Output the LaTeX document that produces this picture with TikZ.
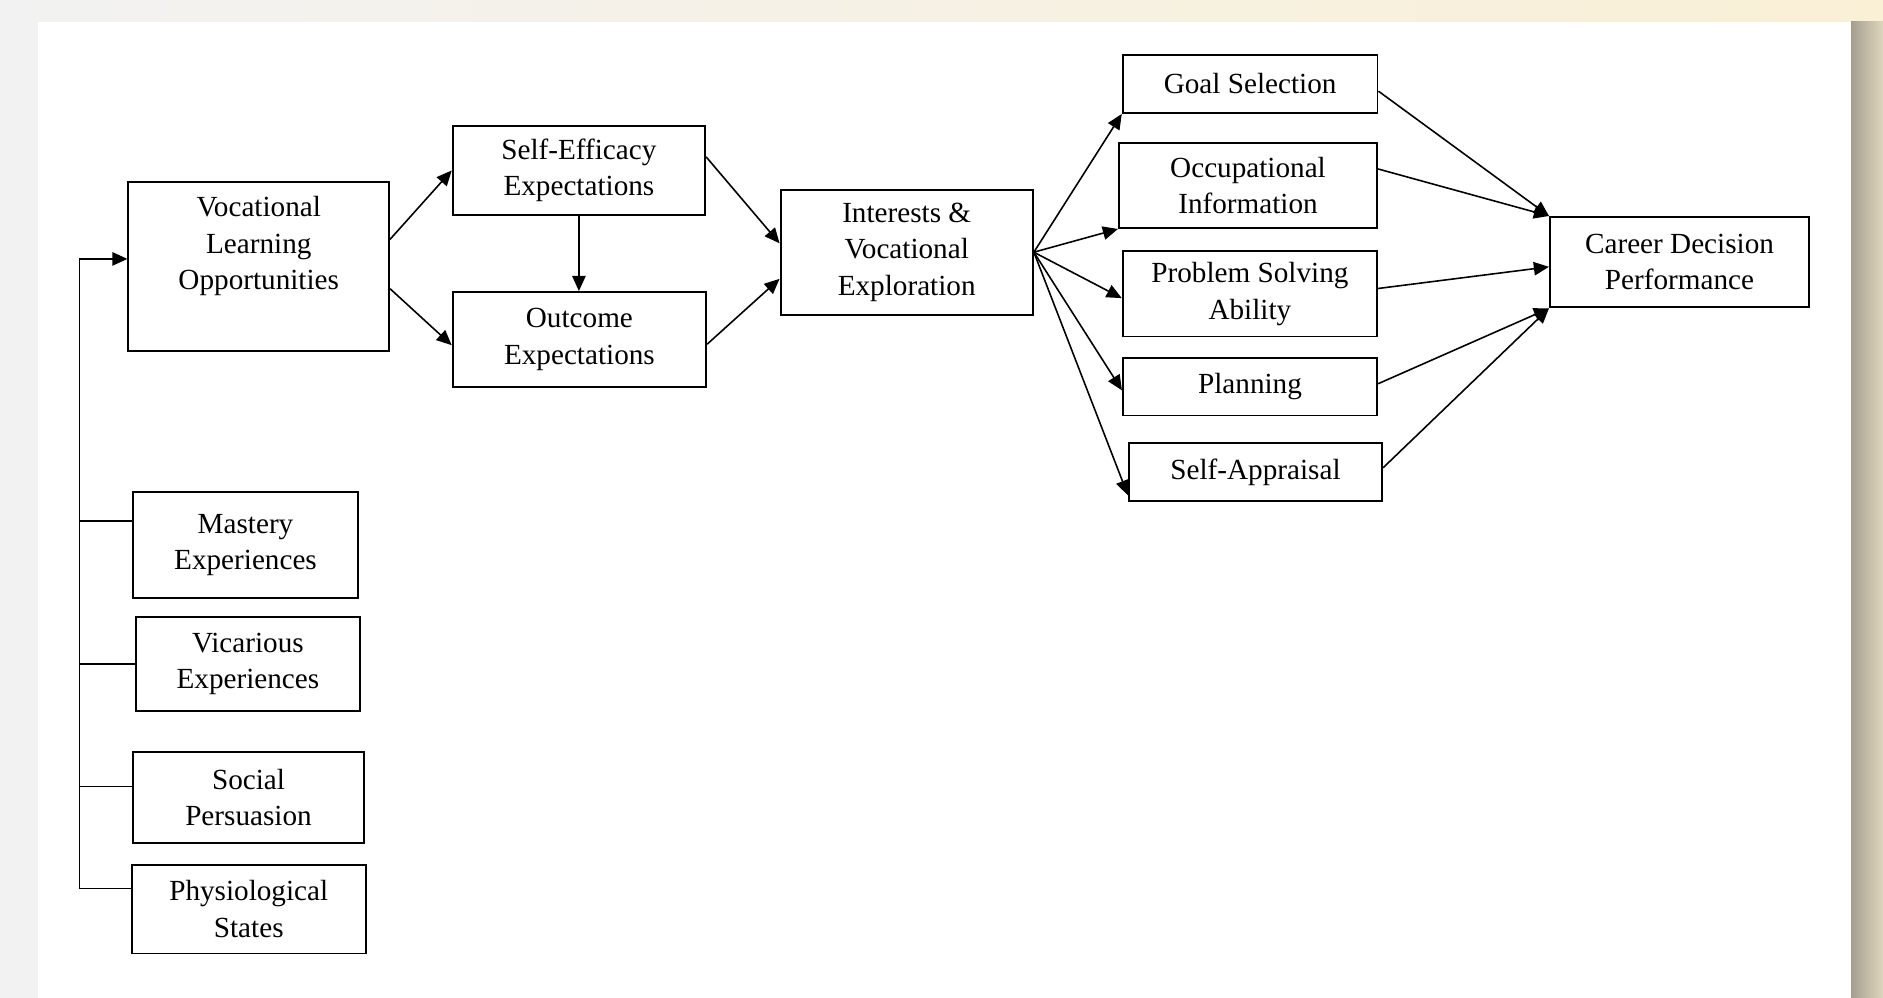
\documentclass[tikz,border=0pt]{standalone}
\usepackage{fontspec}
\setmainfont{Liberation Serif}
\usetikzlibrary{positioning, arrows.meta, calc}
\definecolor{framegray}{HTML}{F2F2F2}
\definecolor{framecream}{HTML}{FAF0D6}
\definecolor{shadetaupe}{HTML}{A59F90}
\definecolor{shadesand}{HTML}{DED6BE}
\newcommand{\boxfont}{\fontsize{8.3}{10.4}\selectfont}
\tikzset{
  box/.style={draw, line width=0.55pt, align=center, inner sep=0pt, font=\boxfont},
  link/.style={line width=0.45pt, -{Triangle[length=4.3pt,width=3.8pt]}},
  feed/.style={line width=0.45pt},
}

\begin{document}
\begin{tikzpicture}[x=0.01cm, y=-0.01cm]
  % frame and white card
  \useasboundingbox (0,0) rectangle (1883,998);
  \shade[left color=framegray, right color=framecream] (0,0) rectangle (1883,998);
  \shade[left color=shadetaupe, right color=shadesand] (1851,22) rectangle (1883,998);
  \fill[white] (38,22) rectangle (1851,998);

  % main chain
  \node[box, minimum width=2.605cm, minimum height=1.682cm] (voc) at (258.75,266.6)
    {Vocational\\Learning\\Opportunities\\[2.9pt]\mbox{}};
  \node[box, minimum width=2.523cm, minimum height=0.89cm] (se) at (578.9,170.5)
    {Self-Efficacy\\Expectations};
  \node[box, minimum width=2.533cm, minimum height=0.947cm] (oc) at (579.4,339.4)
    {Outcome\\Expectations};
  \node[box, minimum width=2.522cm, minimum height=1.249cm] (int) at (906.7,252.2)
    {Interests \&\\Vocational\\Exploration};

  % career decision factors
  \node[box, minimum width=2.546cm, minimum height=0.58cm] (gs) at (1250.1,84)
    {Goal Selection};
  \node[box, minimum width=2.58cm, minimum height=0.85cm] (oi) at (1248,185.5)
    {Occupational\\Information};
  \node[box, minimum width=2.542cm, minimum height=0.855cm] (ps) at (1249.9,293.75)
    {Problem Solving\\Ability};
  \node[box, minimum width=2.54cm, minimum height=0.575cm] (pl) at (1250,386.75)
    {Planning};
  \node[box, minimum width=2.53cm, minimum height=0.58cm] (sa) at (1255.5,472)
    {Self-Appraisal};
  \node[box, minimum width=2.59cm, minimum height=0.904cm] (cd) at (1679.5,262.2)
    {Career Decision\\Performance};

  % sources of learning
  \node[box, minimum width=2.25cm, minimum height=1.06cm] (ms) at (245.5,545)
    {Mastery\\Experiences};
  \node[box, minimum width=2.243cm, minimum height=0.94cm] (vi) at (247.9,664)
    {Vicarious\\Experiences};
  \node[box, minimum width=2.31cm, minimum height=0.91cm] (so) at (248.5,797.5)
    {Social\\Persuasion};
  \node[box, minimum width=2.335cm, minimum height=0.885cm] (ph) at (248.75,909.25)
    {Physiological\\States};

  % arrows
  \draw[link] ($(voc.north east)!0.34!(voc.south east)$) -- (se.west);
  \draw[link] ($(voc.north east)!0.63!(voc.south east)$) -- ($(oc.north west)!0.56!(oc.south west)$);
  \draw[link] (se.south) -- (se.south |- oc.north);
  \draw[link] ($(se.north east)!0.35!(se.south east)$) -- ($(int.north west)!0.43!(int.south west)$);
  \draw[link] ($(oc.north east)!0.55!(oc.south east)$) -- ($(int.north west)!0.71!(int.south west)$);

  \draw[link] (int.east) -- (gs.south west);
  \draw[link] (int.east) -- (oi.south west);
  \draw[link] (int.east) -- ($(ps.north west)!0.55!(ps.south west)$);
  \draw[link] (int.east) -- ($(pl.north west)!0.56!(pl.south west)$);
  \draw[link] (int.east) -- ($(sa.north west)!0.89!(sa.south west)$);

  \draw[link] ($(gs.north east)!0.62!(gs.south east)$) -- (cd.north west);
  \draw[link] ($(oi.north east)!0.31!(oi.south east)$) -- (cd.north west);
  \draw[link] ($(ps.north east)!0.44!(ps.south east)$) -- ($(cd.north west)!0.55!(cd.south west)$);
  \draw[link] ($(pl.north east)!0.45!(pl.south east)$) -- (cd.south west);
  \draw[link] ($(sa.north east)!0.43!(sa.south east)$) -- (cd.south west);

  % feeder line
  \coordinate (vocin) at ($(voc.north west)!0.455!(voc.south west)$);
  \path (vocin) ++(-48,0) coordinate (bustop);
  \coordinate (msin) at ($(ms.north west)!0.28!(ms.south west)$);
  \coordinate (viin) at ($(vi.north west)!0.5!(vi.south west)$);
  \coordinate (soin) at ($(so.north west)!0.38!(so.south west)$);
  \coordinate (phin) at ($(ph.north west)!0.27!(ph.south west)$);
  \draw[link] (phin) -| (bustop) -- (vocin);
  \draw[feed] (msin) -- (msin -| bustop);
  \draw[feed] (viin) -- (viin -| bustop);
  \draw[feed] (soin) -- (soin -| bustop);
\end{tikzpicture}
\end{document}
